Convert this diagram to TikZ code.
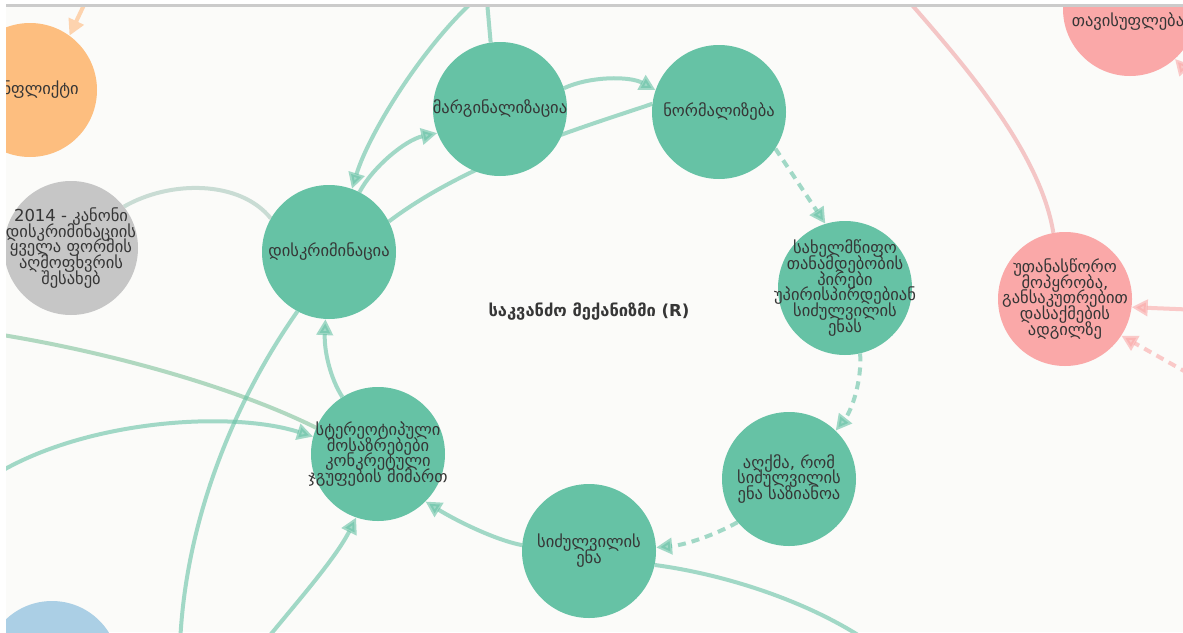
\documentclass[tikz,border=0pt]{standalone}
\usepackage{fontspec}
\setmainfont{DejaVu Sans}
\usetikzlibrary{arrows.meta}
\pgfdeclarelayer{bottom}
\pgfdeclarelayer{edges}
\pgfsetlayers{bottom,edges,main}
\definecolor{bg}{HTML}{FBFBF9}
\definecolor{bar}{HTML}{CBCBCB}
\definecolor{gnode}{HTML}{66C2A5}
\definecolor{onode}{HTML}{FDBE7F}
\definecolor{grnode}{HTML}{C6C6C6}
\definecolor{pnode}{HTML}{FAA8A8}
\definecolor{bnode}{HTML}{ABCFE5}
\definecolor{txt}{HTML}{363636}
\definecolor{greylink}{HTML}{C9DCD4}
\definecolor{olivelink}{HTML}{B0D8C0}
\definecolor{pinklink}{HTML}{F4C6C6}
\definecolor{olink}{HTML}{FDD3AE}
\newcommand\tightlines{\lineskiplimit=-30pt\relax\lineskip=0pt\relax}
\tikzset{
  circ/.style={circle, minimum size=134pt, inner sep=0pt},
  gn/.style={circ, fill=gnode},
  lbl/.style={inner sep=0pt, align=center, text=txt,
    font=\fontsize{16.5}{15.8}\selectfont\tightlines},
  link/.style={line width=4pt, draw=gnode, draw opacity=0.6, fill opacity=0.6},
  plink/.style={line width=4pt, draw=pnode, draw opacity=0.6, fill opacity=0.6},
  arr/.style={-{Triangle[length=16pt,width=16pt]}},
  dsh/.style={dash pattern=on 8pt off 6pt},
}
\begin{document}
\begin{tikzpicture}[x=1pt,y=-1pt]
\useasboundingbox (0,0) rectangle (1183,632);
\begin{pgfonlayer}{bottom}
\fill[white] (0,0) rectangle (1183,632);
\fill[bg] (6,7) rectangle (1183,632);
\end{pgfonlayer}
\begin{scope}
\clip (6,7) rectangle (1183,632);
% nodes
\node[circ, fill=onode] (conf) at (30,90) {};
\node[circ, fill=grnode] (law) at (71,248) {};
\node[gn] (disc) at (329,252) {};
\node[gn] (marg) at (500,109) {};
\node[gn] (norm) at (719,112) {};
\node[gn] (state) at (845,288) {};
\node[gn] (perc) at (789,479) {};
\node[gn] (hate) at (589,551) {};
\node[gn] (stereo) at (378,454) {};
\node[circ, fill=pnode] (unequal) at (1065,299) {};
\node[circ, fill=pnode] (free) at (1130,9) {};
\node[circ, fill=bnode] (blue) at (52,668) {};
% labels
\node[lbl] (confL) at (conf) {კონფლიქტი};
\node[lbl] (lawL) at (law) {2014 - კანონი\\დისკრიმინაციის\\ყველა ფორმის\\აღმოფხვრის\\შესახებ};
\node[lbl] (discL) at (disc) {დისკრიმინაცია};
\node[lbl] (margL) at (marg) {მარგინალიზაცია};
\node[lbl] (normL) at (norm) {ნორმალიზება};
\node[lbl] (stateL) at (state) {სახელმწიფო\\თანამდებობის\\პირები\\უპირისპირდებიან\\სიძულვილის\\ენას};
\node[lbl] (percL) at (perc) {აღქმა, რომ\\სიძულვილის\\ენა საზიანოა};
\node[lbl] (hateL) at (hate) {სიძულვილის\\ენა};
\node[lbl] (stereoL) at (stereo) {სტერეოტიპული\\მოსაზრებები\\კონკრეტული\\ჯგუფების მიმართ};
\node[lbl] (unequalL) at (unequal) {უთანასწორო\\მოპყრობა,\\განსაკუთრებით\\დასაქმების\\ადგილზე};
\node[lbl, anchor=north] (freeL) at (1128,12) {თავისუფლება};
\node[text=txt, font=\bfseries\fontsize{16.5}{16}\selectfont] (title) at (589,312) {საკვანძო მექანიზმი (R)};
\end{scope}
% free ends
\coordinate (ctop) at (486,-10);
\coordinate (cleft1) at (-10,333);
\coordinate (cleft2) at (-10,478);
\coordinate (cbot1) at (180,645);
\coordinate (cbot2) at (258,650);
\coordinate (cbot3) at (880,650);
\coordinate (ptop) at (905,-3);
\coordinate (pr1) at (1200,310);
\coordinate (pr2) at (1200,380);
\coordinate (pr3) at (1205,92);
\coordinate (otop) at (92,-12);
% edges
\begin{pgfonlayer}{edges}
\begin{scope}
\clip (6,7) rectangle (1183,632);
\draw[link] (ctop) -- (marg.98);
\draw[link,arr] (ctop) .. controls (430,35) and (370,130) .. (disc.70);
\draw[link,arr] (disc.63) .. controls (372,168) and (405,140) .. (marg.201);
\draw[link,arr] (marg.18) .. controls (590,76) and (630,76) .. (norm.161);
\draw[link] (norm.173) .. controls (590,125) and (470,160) .. (disc.27);
\draw[link,arr,dsh] (norm.-33) -- (state.107);
\draw[link,arr,dsh] (state.-77) .. controls (862,380) and (852,410) .. (perc.46);
\draw[link,arr,dsh] (perc.220) .. controls (715,535) and (685,545) .. (hate.3);
\draw[link,arr] (hate.175) .. controls (495,540) and (455,520) .. (stereo.-45);
\draw[link,arr] (stereo.122) .. controls (330,378) and (324,350) .. (disc.-93);
\draw[line width=4pt, draw=olivelink] (cleft1) .. controls (100,350) and (230,385) .. (stereo.157);
\draw[link,arr] (cleft2) .. controls (80,420) and (230,410) .. (stereo.165);
\draw[link] (cbot1) .. controls (185,520) and (235,400) .. (disc.242);
\draw[link,arr] (cbot2) .. controls (290,610) and (335,560) .. (stereo.251);
\draw[link] (hate.-12) .. controls (730,575) and (820,605) .. (cbot3);
\draw[line width=4pt, draw=greylink] (law.38) .. controls (170,180) and (240,180) .. (disc.150);
\draw[line width=4pt, draw=pinklink] (ptop) .. controls (960,60) and (1040,150) .. (unequal.100);
\draw[plink,arr] (pr1) -- (unequal.-7);
\draw[plink,arr,dsh] (pr2) -- (unequal.-33);
\draw[plink,arr] (pr3) -- (free.-48);
\draw[line width=4pt, draw=olink, arr] (otop) -- (conf.54);
\end{scope}
\end{pgfonlayer}
\fill[bar] (6,4) rectangle (1183,7);
\end{tikzpicture}
\end{document}
